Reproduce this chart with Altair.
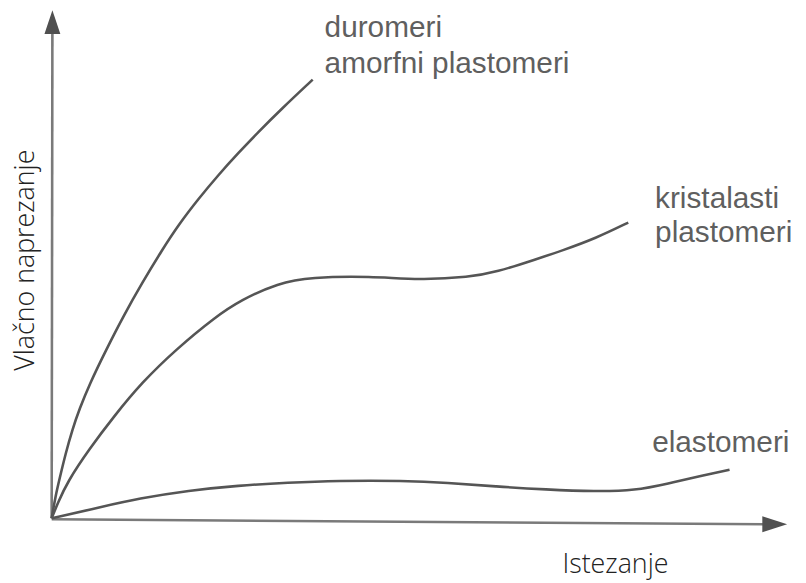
import altair as alt
import pandas as pd

# Curves (x: Istezanje, y: Vlačno naprezanje, arbitrary units)
duro_x = [0.00, 0.54, 1.08, 1.89, 2.84, 3.78, 5.14, 7.43, 9.86, 12.30, 15.00, 17.30, 20.00, 22.70, 25.41, 28.11, 31.22, 35.54]
duro_y = [0.00, 4.49, 7.81, 12.70, 17.58, 21.48, 26.37, 33.20, 40.04, 46.29, 52.73, 57.81, 62.89, 67.58, 71.88, 75.98, 80.47, 86.33]

krist_x = [0.00, 0.81, 2.16, 5.14, 8.51, 12.30, 16.89, 22.30, 25.81, 30.81, 35.27, 43.38, 50.14, 56.89, 60.54, 65.95, 69.59, 74.05, 78.51]
krist_y = [0.00, 2.93, 7.23, 13.67, 20.12, 26.76, 33.20, 39.65, 42.97, 46.29, 47.46, 47.66, 46.88, 47.46, 48.44, 50.98, 52.73, 55.08, 58.20]

elast_x = [0.00, 6.49, 11.89, 18.65, 25.41, 32.16, 38.92, 47.97, 53.78, 60.54, 67.30, 74.05, 79.46, 83.92, 88.51, 92.30]
elast_y = [0.00, 2.15, 3.91, 5.47, 6.45, 7.03, 7.42, 7.42, 7.03, 6.25, 5.66, 5.27, 5.47, 6.84, 8.40, 9.57]

# Curve labels
label_text = ["duromeri", "amorfni plastomeri", "kristalasti", "plastomeri", "elastomeri"]
label_x = [37.16, 37.16, 82.16, 82.16, 81.76]
label_y = [94.73, 87.70, 61.13, 54.30, 13.09]

x_title = "Istezanje"
y_title = "Vlačno naprezanje"

rows = []
for name, xs, ys in [("duromeri", duro_x, duro_y), ("kristalasti", krist_x, krist_y), ("elastomeri", elast_x, elast_y)]:
    for i, (a, b) in enumerate(zip(xs, ys)):
        rows.append({"serie": name, "order": i, "x": a, "y": b})
curves = pd.DataFrame(rows)

axes_df = pd.DataFrame([
    {"axis": "x", "order": 0, "x": 0.0, "y": -0.2},
    {"axis": "x", "order": 1, "x": 98.45, "y": -1.17},
    {"axis": "y", "order": 0, "x": 0.0, "y": 0.0},
    {"axis": "y", "order": 1, "x": 0.1, "y": 97.66},
])
xhead = pd.DataFrame([{"x": 98.45, "y": -1.17}])
yhead = pd.DataFrame([{"x": 0.1, "y": 97.66}])
labels = pd.DataFrame({"t": label_text, "x": label_x, "y": label_y})
xt = pd.DataFrame([{"t": x_title, "x": 76.76, "y": -10.74}])
yt = pd.DataFrame([{"t": y_title, "x": -2.35, "y": 50.8}])

xs = alt.Scale(domain=[-5.946, 101.62], nice=False, zero=False)
ys = alt.Scale(domain=[-12.109, 100.0], nice=False, zero=False)
X = lambda: alt.X("x:Q", scale=xs, axis=None)
Y = lambda: alt.Y("y:Q", scale=ys, axis=None)

axis_lines = alt.Chart(axes_df).mark_line(color="#7a7a7a", strokeWidth=2.6).encode(
    x=X(), y=Y(), detail="axis:N", order="order:Q")

head_x = alt.Chart(xhead).mark_point(
    shape="M-1,-0.64L1,0L-1,0.64Z", filled=True, opacity=1, color="#505050", size=625, strokeWidth=0
).encode(x=X(), y=Y())
head_y = alt.Chart(yhead).mark_point(
    shape="M-0.667,1L0,-1L0.667,1Z", filled=True, opacity=1, color="#505050", size=576, strokeWidth=0
).encode(x=X(), y=Y())

lines = alt.Chart(curves).mark_line(color="#555555", strokeWidth=2.6, interpolate="basis").encode(
    x=X(), y=Y(), detail="serie:N", order="order:Q")

lab = alt.Chart(labels).mark_text(
    align="left", baseline="alphabetic", font="Liberation Sans", fontSize=30, color="#5f5f5f"
).encode(x=X(), y=Y(), text="t:N")

xtitle = alt.Chart(xt).mark_text(
    align="center", baseline="alphabetic", font="Open Sans", fontWeight=300, fontSize=27, color="#222222"
).encode(x=X(), y=Y(), text="t:N")
ytitle = alt.Chart(yt).mark_text(
    align="center", baseline="alphabetic", angle=270, font="Open Sans", fontWeight=300, fontSize=27, color="#222222"
).encode(x=X(), y=Y(), text="t:N")

chart = alt.layer(axis_lines, head_x, head_y, lines, lab, xtitle, ytitle).properties(
    width=796, height=574,
    autosize=alt.AutoSizeParams(type="none"),
    padding={"left": 0, "top": 0, "right": 0, "bottom": 0},
    background="white",
).configure_view(stroke=None)

chart.save("out.html", embed_options={"renderer": "svg", "actions": False})
